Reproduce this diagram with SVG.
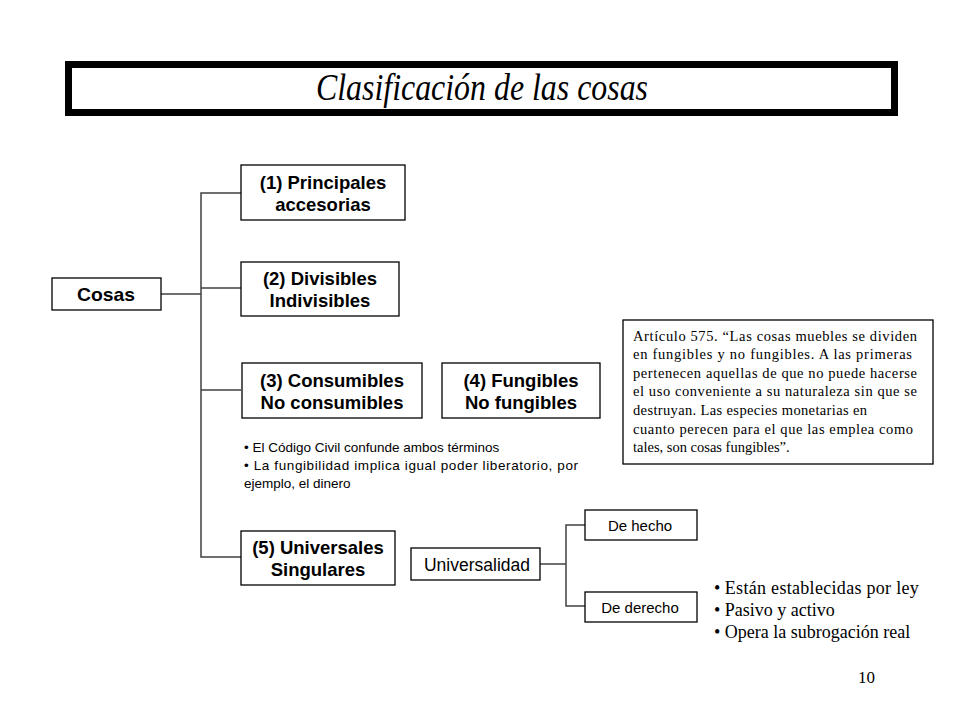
<svg xmlns="http://www.w3.org/2000/svg" width="960" height="720" viewBox="0 0 960 720">
<style>
.box{fill:#fff;stroke:#000;stroke-width:1.3}
.b{font-family:"Liberation Sans",Arial,sans-serif;font-weight:bold;font-size:18.5px;fill:#000;text-anchor:middle}
.r{font-family:"Liberation Sans",Arial,sans-serif;fill:#000;text-anchor:middle}
.s{font-family:"Liberation Serif","Times New Roman",serif;fill:#000}
.ln{fill:none;stroke:#404040;stroke-width:1.5}
</style>
<rect width="960" height="720" fill="#fff"/>
<g id="title">
<rect x="68.5" y="64.5" width="826" height="48" fill="#fff" stroke="#000" stroke-width="7"/>
<text class="s" x="316" y="100" font-size="37" font-style="italic" textLength="332" lengthAdjust="spacingAndGlyphs">Clasificación de las cosas</text>
</g>
<g id="connectors">
<line class="ln" x1="161" y1="294" x2="201" y2="294" stroke-width="2.5"/>
<polyline class="ln" points="241,193 201,193 201,557 241,557"/>
<line class="ln" x1="201" y1="288" x2="241" y2="288"/>
<line class="ln" x1="201" y1="390" x2="241" y2="390"/>
<line class="ln" x1="540" y1="564" x2="566" y2="564"/>
<polyline class="ln" points="585,525 566,525 566,606 585,606"/>
</g>
<g id="cosas">
<rect class="box" x="52" y="278" width="109" height="32"/>
<text class="b" x="106" y="301" font-size="19.5" textLength="58" lengthAdjust="spacingAndGlyphs">Cosas</text>
</g>
<g id="n1">
<rect class="box" x="241" y="165" width="164" height="55"/>
<text class="b" x="323" y="188.5">(1) Principales</text>
<text class="b" x="323" y="210.5">accesorias</text>
</g>
<g id="n2">
<rect class="box" x="241" y="262" width="158" height="54"/>
<text class="b" x="320" y="285">(2) Divisibles</text>
<text class="b" x="320" y="307">Indivisibles</text>
</g>
<g id="n3">
<rect class="box" x="242" y="363" width="180" height="55"/>
<text class="b" x="332" y="386.5">(3) Consumibles</text>
<text class="b" x="332" y="408.5">No consumibles</text>
</g>
<g id="n4">
<rect class="box" x="442" y="363" width="158" height="55"/>
<text class="b" x="521" y="386.5">(4) Fungibles</text>
<text class="b" x="521" y="408.5">No fungibles</text>
</g>
<g id="notes34">
<text class="r" style="text-anchor:start" x="244" y="452" font-size="13.5" fill="#111">• El Código Civil confunde ambos términos</text>
<text class="r" style="text-anchor:start" x="244" y="470" font-size="13.5" textLength="334" fill="#111">• La fungibilidad implica igual poder liberatorio, por</text>
<text class="r" style="text-anchor:start" x="244" y="488" font-size="13.5" fill="#111">ejemplo, el dinero</text>
</g>
<g id="articulo">
<rect class="box" x="623" y="320" width="310" height="144"/>
<text class="s" font-size="14.5" x="633" y="340.5" textLength="284">Artículo 575. “Las cosas muebles se dividen</text>
<text class="s" font-size="14.5" x="633" y="359.1" textLength="279">en fungibles y no fungibles. A las primeras</text>
<text class="s" font-size="14.5" x="633" y="377.7" textLength="284">pertenecen aquellas de que no puede hacerse</text>
<text class="s" font-size="14.5" x="633" y="396.3" textLength="284">el uso conveniente a su naturaleza sin que se</text>
<text class="s" font-size="14.5" x="633" y="414.9" textLength="234">destruyan. Las especies monetarias en</text>
<text class="s" font-size="14.5" x="633" y="433.5" textLength="280">cuanto perecen para el que las emplea como</text>
<text class="s" font-size="14.5" x="633" y="452.1">tales, son cosas fungibles”.</text>
</g>
<g id="n5">
<rect class="box" x="241" y="531" width="154" height="54"/>
<text class="b" x="318" y="554">(5) Universales</text>
<text class="b" x="318" y="576">Singulares</text>
</g>
<g id="universalidad">
<rect class="box" x="411" y="548" width="129" height="32"/>
<text class="r" x="477" y="570.5" font-size="17.5">Universalidad</text>
</g>
<g id="dehecho">
<rect class="box" x="585" y="510" width="112" height="30"/>
<text class="r" x="640" y="530.5" font-size="15">De hecho</text>
</g>
<g id="dederecho">
<rect class="box" x="585" y="592" width="112" height="30"/>
<text class="r" x="640" y="612.5" font-size="15">De derecho</text>
</g>
<g id="notes5">
<text class="s" font-size="18" x="714" y="594">• <tspan textLength="194">Están establecidas por ley</tspan></text>
<text class="s" font-size="18" x="714" y="616">• Pasivo y activo</text>
<text class="s" font-size="18" x="714" y="638">• Opera la subrogación real</text>
</g>
<text class="s" font-size="17" x="858" y="683">10</text>
</svg>
